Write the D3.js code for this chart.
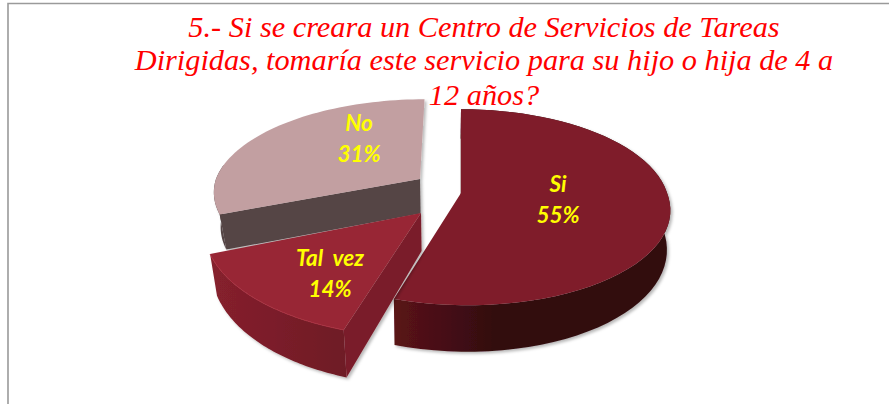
<!DOCTYPE html>
<html><head><meta charset="utf-8">
<script src="https://cdn.jsdelivr.net/npm/d3@7"></script>
<style>html,body{margin:0;padding:0;background:#fff;overflow:hidden}svg{display:block}</style>
</head><body><svg id="c" width="889" height="404"></svg>
<script>
const titleLines = ["5.- Si se creara un Centro de Servicios de Tareas","Dirigidas, tomaría este servicio para su hijo o hija de 4 a","12 años?"];
const categories = ["Si","Tal vez","No"];
const values = [55,14,31];
const percentLabels = ["55%","14%","31%"];
const topColors = ["#7f1f2b","#982736","#c29fa1"];
const sideFrom = ["#5a1319","#85202d","#544445"];
const sideTo = ["#300a0f","#6e1a25","#544445"];
const radialColors = ["#551318","#7a1e2a","#544445"];

const W=889,H=404;
const svg=d3.select("#c");
const defs=svg.append("defs");
const f=defs.append("filter").attr("id","sh").attr("x","-10%").attr("y","-10%").attr("width","125%").attr("height","125%");
f.append("feDropShadow").attr("dx",2).attr("dy",2).attr("stdDeviation",1.6).attr("flood-color","#000").attr("flood-opacity",.28);

// frame
svg.append("path").attr("d","M8 404V3.5H889").attr("fill","none").attr("stroke","#9a9a9a").attr("stroke-width",1.6);

const pie=d3.pie().sort(null).value(d=>d).startAngle(0).endAngle(2*Math.PI)(values);
// slice placement: apex, radius scale, y scale, depth, depth growth, skew front/back, shrink
const place=[
 {cx:461,cy:193,s:1.01,ys:1,    d:38,  k:.22,skf:7,skb:0,   sh:.015,tx:558,ty:192},
 {cx:421,cy:213,s:1.05,ys:1.055,d:38,  k:.25,skf:0,skb:0,   sh:.03, tx:330,ty:266},
 {cx:420,cy:179,s:1,   ys:.96,  d:34.5,k:.05,skf:0,skb:-4.5,sh:.03, tx:359,ty:131}
];
const Rx=204,Ry=95,p=.144,vanish=440;
function proj(a,r,pl,z){
  const u=Math.sin(a)*r*pl.s, v=-Math.cos(a)*r*pl.s, w=1-p*v;
  const x=pl.cx+Rx*u/w+(v>0?pl.skf:pl.skb)*v, y=pl.cy+Ry*pl.ys*v/w;
  return [vanish+(x-vanish)*(1-pl.sh*z), y+z*pl.d*(1+pl.k*v)];
}
const line=d3.line().curve(d3.curveLinear);
const arcPts=(a0,a1,pl,z)=>d3.range(0,61).map(i=>proj(a0+(a1-a0)*i/60,1,pl,z));

[2,0,1].forEach(i=>{
  const sl=pie[i],pl=place[i];
  const g=svg.append("g").attr("filter","url(#sh)");
  const top=arcPts(sl.startAngle,sl.endAngle,pl,0);
  // the outer wall is only seen on the near half of the rim
  const wallEnd=Math.min(sl.endAngle,1.55*Math.PI);
  const wallTop=arcPts(sl.startAngle,wallEnd,pl,0);
  const bot=arcPts(sl.startAngle,wallEnd,pl,1);
  const xs=bot.map(d=>d[0]);
  const gid="side"+i;
  const gr=defs.append("linearGradient").attr("id",gid).attr("gradientUnits","userSpaceOnUse")
    .attr("x1",i===0?395:d3.min(xs)).attr("x2",i===0?500:d3.max(xs)).attr("y1",0).attr("y2",0);
  gr.append("stop").attr("offset",0).attr("stop-color",sideFrom[i]);
  gr.append("stop").attr("offset",1).attr("stop-color",sideTo[i]);
  g.append("path").attr("d",line(wallTop.concat(bot.slice().reverse()))+"Z").attr("fill",`url(#${gid})`);
  // visible radial face
  const ra=sl.startAngle;
  const a=proj(ra,0,pl,0),b=proj(ra,1,pl,0),c=proj(ra,1,pl,1),e=proj(ra,0,pl,1);
  g.append("path").attr("d",line([a,b,c,e])+"Z").attr("fill",radialColors[i]);
  g.append("path").attr("d",line([proj(0,0,pl,0)].concat(top))+"Z").attr("fill",topColors[i]);
  if(i===1) g.append("path").attr("d",line(top)).attr("fill","none").attr("stroke","#a93040").attr("stroke-width",1);
});

// data labels
pie.forEach((sl,i)=>{
  const pl=place[i];
  const t=svg.append("text").attr("text-anchor","middle").attr("font-family","Lato")
    .attr("font-style","italic").attr("font-weight",700).attr("font-size",22.5).attr("word-spacing",5).attr("fill","#ffff00");
  t.append("tspan").attr("x",pl.tx).attr("y",pl.ty).text(categories[i]);
  t.append("tspan").attr("x",pl.tx).attr("y",pl.ty+31).text(percentLabels[i]);
});

// title
const tb=[37,70,105];
svg.append("g").selectAll("text").data(titleLines).join("text")
 .attr("x",484).attr("y",(d,i)=>tb[i]).attr("text-anchor","middle")
 .attr("font-family","'Liberation Serif'").attr("font-style","italic").attr("font-size",30.3)
 .attr("fill","#ff0000").text(d=>d);
</script></body></html>
